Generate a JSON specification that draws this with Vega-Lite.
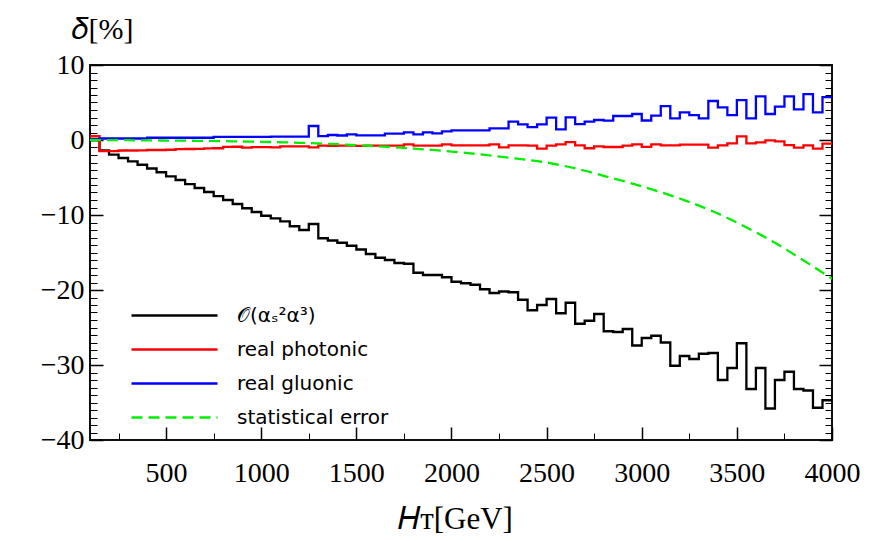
{
  "$schema": "https://vega.github.io/schema/vega-lite/v6.json",
  "width": 742,
  "height": 375,
  "autosize": {"type": "none"},
  "padding": {"left": 90, "top": 65, "right": 42, "bottom": 101},
  "background": "white",
  "config": {
    "view": {"stroke": "#111", "strokeWidth": 2},
    "axis": {"grid": false, "domain": false, "tickColor": "#000", "labelColor": "#000", "titleColor": "#000", "labelOverlap": false, "labelFlush": false}
  },
  "datasets": {
    "hist": [
      {"x":100,"s":"𝒪(αₛ²α³)","v":0.0},{"x":150,"s":"𝒪(αₛ²α³)","v":-1.4},{"x":200,"s":"𝒪(αₛ²α³)","v":-1.95},{"x":250,"s":"𝒪(αₛ²α³)","v":-2.4},{"x":300,"s":"𝒪(αₛ²α³)","v":-2.85},{"x":350,"s":"𝒪(αₛ²α³)","v":-3.3},{"x":400,"s":"𝒪(αₛ²α³)","v":-3.8},{"x":450,"s":"𝒪(αₛ²α³)","v":-4.3},{"x":500,"s":"𝒪(αₛ²α³)","v":-4.85},{"x":550,"s":"𝒪(αₛ²α³)","v":-5.33},
      {"x":600,"s":"𝒪(αₛ²α³)","v":-5.87},{"x":650,"s":"𝒪(αₛ²α³)","v":-6.4},{"x":700,"s":"𝒪(αₛ²α³)","v":-6.93},{"x":750,"s":"𝒪(αₛ²α³)","v":-7.47},{"x":800,"s":"𝒪(αₛ²α³)","v":-8.0},{"x":850,"s":"𝒪(αₛ²α³)","v":-8.53},{"x":900,"s":"𝒪(αₛ²α³)","v":-9.1},{"x":950,"s":"𝒪(αₛ²α³)","v":-9.6},{"x":1000,"s":"𝒪(αₛ²α³)","v":-10.1},{"x":1050,"s":"𝒪(αₛ²α³)","v":-10.45},
      {"x":1100,"s":"𝒪(αₛ²α³)","v":-10.85},{"x":1150,"s":"𝒪(αₛ²α³)","v":-11.5},{"x":1200,"s":"𝒪(αₛ²α³)","v":-12.0},{"x":1250,"s":"𝒪(αₛ²α³)","v":-11.2},{"x":1300,"s":"𝒪(αₛ²α³)","v":-13.1},{"x":1350,"s":"𝒪(αₛ²α³)","v":-13.4},{"x":1400,"s":"𝒪(αₛ²α³)","v":-13.7},{"x":1450,"s":"𝒪(αₛ²α³)","v":-14.1},{"x":1500,"s":"𝒪(αₛ²α³)","v":-14.6},{"x":1550,"s":"𝒪(αₛ²α³)","v":-15.2},
      {"x":1600,"s":"𝒪(αₛ²α³)","v":-15.7},{"x":1650,"s":"𝒪(αₛ²α³)","v":-16.0},{"x":1700,"s":"𝒪(αₛ²α³)","v":-16.4},{"x":1750,"s":"𝒪(αₛ²α³)","v":-16.5},{"x":1800,"s":"𝒪(αₛ²α³)","v":-17.7},{"x":1850,"s":"𝒪(αₛ²α³)","v":-18.0},{"x":1900,"s":"𝒪(αₛ²α³)","v":-18.0},{"x":1950,"s":"𝒪(αₛ²α³)","v":-18.3},{"x":2000,"s":"𝒪(αₛ²α³)","v":-18.9},{"x":2050,"s":"𝒪(αₛ²α³)","v":-19.1},
      {"x":2100,"s":"𝒪(αₛ²α³)","v":-19.3},{"x":2150,"s":"𝒪(αₛ²α³)","v":-19.9},{"x":2200,"s":"𝒪(αₛ²α³)","v":-20.4},{"x":2250,"s":"𝒪(αₛ²α³)","v":-20.2},{"x":2300,"s":"𝒪(αₛ²α³)","v":-20.3},{"x":2350,"s":"𝒪(αₛ²α³)","v":-21.3},{"x":2400,"s":"𝒪(αₛ²α³)","v":-22.7},{"x":2450,"s":"𝒪(αₛ²α³)","v":-22.0},{"x":2500,"s":"𝒪(αₛ²α³)","v":-21.2},{"x":2550,"s":"𝒪(αₛ²α³)","v":-23.1},
      {"x":2600,"s":"𝒪(αₛ²α³)","v":-21.7},{"x":2650,"s":"𝒪(αₛ²α³)","v":-24.5},{"x":2700,"s":"𝒪(αₛ²α³)","v":-24.1},{"x":2750,"s":"𝒪(αₛ²α³)","v":-23.2},{"x":2800,"s":"𝒪(αₛ²α³)","v":-25.5},{"x":2850,"s":"𝒪(αₛ²α³)","v":-25.6},{"x":2900,"s":"𝒪(αₛ²α³)","v":-25.2},{"x":2950,"s":"𝒪(αₛ²α³)","v":-27.4},{"x":3000,"s":"𝒪(αₛ²α³)","v":-26.4},{"x":3050,"s":"𝒪(αₛ²α³)","v":-26.1},
      {"x":3100,"s":"𝒪(αₛ²α³)","v":-27.0},{"x":3150,"s":"𝒪(αₛ²α³)","v":-30.1},{"x":3200,"s":"𝒪(αₛ²α³)","v":-28.8},{"x":3250,"s":"𝒪(αₛ²α³)","v":-29.2},{"x":3300,"s":"𝒪(αₛ²α³)","v":-28.5},{"x":3350,"s":"𝒪(αₛ²α³)","v":-28.4},{"x":3400,"s":"𝒪(αₛ²α³)","v":-32.0},{"x":3450,"s":"𝒪(αₛ²α³)","v":-30.4},{"x":3500,"s":"𝒪(αₛ²α³)","v":-27.1},{"x":3550,"s":"𝒪(αₛ²α³)","v":-33.2},
      {"x":3600,"s":"𝒪(αₛ²α³)","v":-30.4},{"x":3650,"s":"𝒪(αₛ²α³)","v":-35.8},{"x":3700,"s":"𝒪(αₛ²α³)","v":-32.0},{"x":3750,"s":"𝒪(αₛ²α³)","v":-30.9},{"x":3800,"s":"𝒪(αₛ²α³)","v":-33.2},{"x":3850,"s":"𝒪(αₛ²α³)","v":-33.4},{"x":3900,"s":"𝒪(αₛ²α³)","v":-35.7},{"x":3950,"s":"𝒪(αₛ²α³)","v":-34.7},{"x":4000,"s":"𝒪(αₛ²α³)","v":-34.7},

      {"x":100,"s":"real photonic","v":0.5},{"x":150,"s":"real photonic","v":-1.47},{"x":200,"s":"real photonic","v":-1.47},{"x":250,"s":"real photonic","v":-1.4},{"x":300,"s":"real photonic","v":-1.4},{"x":350,"s":"real photonic","v":-1.38},{"x":400,"s":"real photonic","v":-1.33},{"x":450,"s":"real photonic","v":-1.33},{"x":500,"s":"real photonic","v":-1.3},{"x":550,"s":"real photonic","v":-1.22},
      {"x":600,"s":"real photonic","v":-1.2},{"x":650,"s":"real photonic","v":-1.18},{"x":700,"s":"real photonic","v":-1.12},{"x":750,"s":"real photonic","v":-1.1},{"x":800,"s":"real photonic","v":-0.92},{"x":850,"s":"real photonic","v":-0.9},{"x":900,"s":"real photonic","v":-1.02},{"x":950,"s":"real photonic","v":-0.96},{"x":1000,"s":"real photonic","v":-0.95},{"x":1050,"s":"real photonic","v":-0.98},
      {"x":1100,"s":"real photonic","v":-0.84},{"x":1150,"s":"real photonic","v":-0.84},{"x":1200,"s":"real photonic","v":-0.84},{"x":1250,"s":"real photonic","v":-0.98},{"x":1300,"s":"real photonic","v":-0.76},{"x":1350,"s":"real photonic","v":-0.78},{"x":1400,"s":"real photonic","v":-0.76},{"x":1450,"s":"real photonic","v":-0.76},{"x":1500,"s":"real photonic","v":-0.78},{"x":1550,"s":"real photonic","v":-0.76},
      {"x":1600,"s":"real photonic","v":-0.74},{"x":1650,"s":"real photonic","v":-0.76},{"x":1700,"s":"real photonic","v":-0.76},{"x":1750,"s":"real photonic","v":-0.58},{"x":1800,"s":"real photonic","v":-0.76},{"x":1850,"s":"real photonic","v":-0.76},{"x":1900,"s":"real photonic","v":-0.76},{"x":1950,"s":"real photonic","v":-0.58},{"x":2000,"s":"real photonic","v":-0.71},{"x":2050,"s":"real photonic","v":-0.71},
      {"x":2100,"s":"real photonic","v":-0.71},{"x":2150,"s":"real photonic","v":-0.71},{"x":2200,"s":"real photonic","v":-0.58},{"x":2250,"s":"real photonic","v":-0.98},{"x":2300,"s":"real photonic","v":-0.71},{"x":2350,"s":"real photonic","v":-0.71},{"x":2400,"s":"real photonic","v":-0.76},{"x":2450,"s":"real photonic","v":-1.16},{"x":2500,"s":"real photonic","v":-0.76},{"x":2550,"s":"real photonic","v":-0.58},
      {"x":2600,"s":"real photonic","v":-0.27},{"x":2650,"s":"real photonic","v":-0.71},{"x":2700,"s":"real photonic","v":-1.1},{"x":2750,"s":"real photonic","v":-0.84},{"x":2800,"s":"real photonic","v":-0.93},{"x":2850,"s":"real photonic","v":-0.93},{"x":2900,"s":"real photonic","v":-0.76},{"x":2950,"s":"real photonic","v":-0.58},{"x":3000,"s":"real photonic","v":-0.91},{"x":3050,"s":"real photonic","v":-0.58},
      {"x":3100,"s":"real photonic","v":-0.71},{"x":3150,"s":"real photonic","v":-0.71},{"x":3200,"s":"real photonic","v":-0.62},{"x":3250,"s":"real photonic","v":-0.62},{"x":3300,"s":"real photonic","v":-0.62},{"x":3350,"s":"real photonic","v":-1.02},{"x":3400,"s":"real photonic","v":-0.71},{"x":3450,"s":"real photonic","v":-0.44},{"x":3500,"s":"real photonic","v":0.49},{"x":3550,"s":"real photonic","v":-0.44},
      {"x":3600,"s":"real photonic","v":-0.31},{"x":3650,"s":"real photonic","v":-0.04},{"x":3700,"s":"real photonic","v":-0.18},{"x":3750,"s":"real photonic","v":-0.67},{"x":3800,"s":"real photonic","v":-1.02},{"x":3850,"s":"real photonic","v":-0.71},{"x":3900,"s":"real photonic","v":-1.16},{"x":3950,"s":"real photonic","v":-0.49},{"x":4000,"s":"real photonic","v":-0.49},

      {"x":100,"s":"real gluonic","v":0.1},{"x":150,"s":"real gluonic","v":0.2},{"x":200,"s":"real gluonic","v":0.2},{"x":250,"s":"real gluonic","v":0.2},{"x":300,"s":"real gluonic","v":0.2},{"x":350,"s":"real gluonic","v":0.2},{"x":400,"s":"real gluonic","v":0.3},{"x":450,"s":"real gluonic","v":0.3},{"x":500,"s":"real gluonic","v":0.3},{"x":550,"s":"real gluonic","v":0.3},
      {"x":600,"s":"real gluonic","v":0.3},{"x":650,"s":"real gluonic","v":0.3},{"x":700,"s":"real gluonic","v":0.3},{"x":750,"s":"real gluonic","v":0.42},{"x":800,"s":"real gluonic","v":0.42},{"x":850,"s":"real gluonic","v":0.42},{"x":900,"s":"real gluonic","v":0.42},{"x":950,"s":"real gluonic","v":0.42},{"x":1000,"s":"real gluonic","v":0.42},{"x":1050,"s":"real gluonic","v":0.44},
      {"x":1100,"s":"real gluonic","v":0.44},{"x":1150,"s":"real gluonic","v":0.44},{"x":1200,"s":"real gluonic","v":0.44},{"x":1250,"s":"real gluonic","v":1.87},{"x":1300,"s":"real gluonic","v":0.53},{"x":1350,"s":"real gluonic","v":0.67},{"x":1400,"s":"real gluonic","v":0.6},{"x":1450,"s":"real gluonic","v":0.76},{"x":1500,"s":"real gluonic","v":0.62},{"x":1550,"s":"real gluonic","v":0.62},
      {"x":1600,"s":"real gluonic","v":0.62},{"x":1650,"s":"real gluonic","v":0.84},{"x":1700,"s":"real gluonic","v":0.84},{"x":1750,"s":"real gluonic","v":1.02},{"x":1800,"s":"real gluonic","v":0.76},{"x":1850,"s":"real gluonic","v":1.02},{"x":1900,"s":"real gluonic","v":0.89},{"x":1950,"s":"real gluonic","v":1.16},{"x":2000,"s":"real gluonic","v":1.29},{"x":2050,"s":"real gluonic","v":1.29},
      {"x":2100,"s":"real gluonic","v":1.29},{"x":2150,"s":"real gluonic","v":1.29},{"x":2200,"s":"real gluonic","v":1.56},{"x":2250,"s":"real gluonic","v":1.56},{"x":2300,"s":"real gluonic","v":2.44},{"x":2350,"s":"real gluonic","v":2.09},{"x":2400,"s":"real gluonic","v":1.73},{"x":2450,"s":"real gluonic","v":2.09},{"x":2500,"s":"real gluonic","v":2.98},{"x":2550,"s":"real gluonic","v":1.42},
      {"x":2600,"s":"real gluonic","v":3.02},{"x":2650,"s":"real gluonic","v":2.13},{"x":2700,"s":"real gluonic","v":2.44},{"x":2750,"s":"real gluonic","v":2.67},{"x":2800,"s":"real gluonic","v":2.58},{"x":2850,"s":"real gluonic","v":3.2},{"x":2900,"s":"real gluonic","v":3.2},{"x":2950,"s":"real gluonic","v":3.47},{"x":3000,"s":"real gluonic","v":2.6},{"x":3050,"s":"real gluonic","v":3.24},
      {"x":3100,"s":"real gluonic","v":4.53},{"x":3150,"s":"real gluonic","v":2.89},{"x":3200,"s":"real gluonic","v":3.69},{"x":3250,"s":"real gluonic","v":3.33},{"x":3300,"s":"real gluonic","v":2.89},{"x":3350,"s":"real gluonic","v":5.2},{"x":3400,"s":"real gluonic","v":4.36},{"x":3450,"s":"real gluonic","v":3.33},{"x":3500,"s":"real gluonic","v":5.33},{"x":3550,"s":"real gluonic","v":2.89},
      {"x":3600,"s":"real gluonic","v":5.82},{"x":3650,"s":"real gluonic","v":3.47},{"x":3700,"s":"real gluonic","v":4.44},{"x":3750,"s":"real gluonic","v":5.82},{"x":3800,"s":"real gluonic","v":4.09},{"x":3850,"s":"real gluonic","v":6.13},{"x":3900,"s":"real gluonic","v":3.69},{"x":3950,"s":"real gluonic","v":5.73},{"x":4000,"s":"real gluonic","v":5.73}
    ],
    "stat": [
      {"x":100,"s":"statistical error","v":0.0},{"x":200,"s":"statistical error","v":-0.01},{"x":300,"s":"statistical error","v":-0.03},{"x":400,"s":"statistical error","v":-0.05},{"x":500,"s":"statistical error","v":-0.07},{"x":600,"s":"statistical error","v":-0.09},{"x":700,"s":"statistical error","v":-0.12},{"x":800,"s":"statistical error","v":-0.15},{"x":900,"s":"statistical error","v":-0.2},{"x":1000,"s":"statistical error","v":-0.24},
      {"x":1100,"s":"statistical error","v":-0.3},{"x":1200,"s":"statistical error","v":-0.37},{"x":1300,"s":"statistical error","v":-0.46},{"x":1400,"s":"statistical error","v":-0.56},{"x":1500,"s":"statistical error","v":-0.68},{"x":1600,"s":"statistical error","v":-0.82},{"x":1700,"s":"statistical error","v":-0.97},{"x":1800,"s":"statistical error","v":-1.14},{"x":1900,"s":"statistical error","v":-1.33},{"x":2000,"s":"statistical error","v":-1.54},
      {"x":2100,"s":"statistical error","v":-1.78},{"x":2200,"s":"statistical error","v":-2.05},{"x":2300,"s":"statistical error","v":-2.35},{"x":2400,"s":"statistical error","v":-2.65},{"x":2500,"s":"statistical error","v":-3.0},{"x":2600,"s":"statistical error","v":-3.5},{"x":2700,"s":"statistical error","v":-4.1},{"x":2800,"s":"statistical error","v":-4.78},{"x":2900,"s":"statistical error","v":-5.45},{"x":3000,"s":"statistical error","v":-6.17},
      {"x":3100,"s":"statistical error","v":-6.95},{"x":3200,"s":"statistical error","v":-7.8},{"x":3300,"s":"statistical error","v":-8.75},{"x":3400,"s":"statistical error","v":-9.8},{"x":3500,"s":"statistical error","v":-11.0},{"x":3600,"s":"statistical error","v":-12.3},{"x":3700,"s":"statistical error","v":-13.7},{"x":3800,"s":"statistical error","v":-15.25},{"x":3900,"s":"statistical error","v":-16.85},{"x":4000,"s":"statistical error","v":-18.5}
    ]
  },
  "layer": [
    {
      "data": {"name": "hist"},
      "mark": {"type": "line", "interpolate": "step-after", "strokeWidth": 2.3, "clip": true},
      "encoding": {
        "x": {"field": "x", "type": "quantitative", "scale": {"domain": [100, 4000], "nice": false, "zero": false},
          "axis": {"orient": "bottom", "values": [500,1000,1500,2000,2500,3000,3500,4000], "format": "d", "tickSize": -13, "tickWidth": 1.5,
            "labelFont": "Liberation Serif", "labelFontSize": 28, "labelPadding": 32,
            "title": "𝐻ᴛ[GeV]", "titleFont": "Liberation Serif", "titleFontSize": 31, "titleFontWeight": "normal", "titleBaseline": "alphabetic", "titleY": 88, "titleX": 365}},
        "y": {"field": "v", "type": "quantitative", "scale": {"domain": [-40, 10], "nice": false, "zero": false},
          "axis": {"orient": "left", "values": [-40,-30,-20,-10,0,10], "format": "d", "tickSize": -13, "tickWidth": 1.5,
            "labelFont": "Liberation Serif", "labelFontSize": 28, "labelPadding": 19,
            "title": "𝛿[%]", "titleFont": "Liberation Serif", "titleFontSize": 30, "titleFontWeight": "normal", "titleAngle": 0, "titleAlign": "center", "titleBaseline": "alphabetic", "titleX": 12, "titleY": -27}},
        "color": {"field": "s", "type": "nominal",
          "scale": {"domain": ["𝒪(αₛ²α³)", "real photonic", "real gluonic", "statistical error"], "range": ["#000000", "#ff0000", "#0000ff", "#00ee00"]},
          "legend": {"title": null, "orient": "none", "legendX": 73, "legendY": 239, "symbolType": "M-4.3,0H4.3", "symbolSize": 400, "symbolStrokeWidth": 2.3, "labelFont": "DejaVu Sans", "labelFontSize": 20, "labelOffset": 51, "rowPadding": 12, "labelColor": "#000"}},
        "strokeDash": {"field": "s", "type": "nominal",
          "scale": {"domain": ["𝒪(αₛ²α³)", "real photonic", "real gluonic", "statistical error"], "range": [[1,0],[1,0],[1,0],[11,6]]},
          "legend": {"title": null, "orient": "none", "legendX": 73, "legendY": 239, "symbolType": "M-4.3,0H4.3", "symbolSize": 400, "symbolStrokeWidth": 2.3, "labelFont": "DejaVu Sans", "labelFontSize": 20, "labelOffset": 51, "rowPadding": 12, "labelColor": "#000"}}
      }
    },
    {
      "data": {"name": "stat"},
      "mark": {"type": "line", "interpolate": "monotone", "strokeWidth": 2.3, "clip": true},
      "encoding": {
        "x": {"field": "x", "type": "quantitative", "scale": {"domain": [100, 4000], "nice": false, "zero": false},
          "axis": {"orient": "bottom", "values": [250,750,1250,1750,2250,2750,3250,3750], "tickSize": -7, "tickWidth": 1, "labels": false, "title": null}},
        "y": {"field": "v", "type": "quantitative", "scale": {"domain": [-40, 10], "nice": false, "zero": false},
          "axis": {"orient": "left", "values": [-39,-38,-37,-36,-35,-34,-33,-32,-31,-29,-28,-27,-26,-25,-24,-23,-22,-21,-19,-18,-17,-16,-15,-14,-13,-12,-11,-9,-8,-7,-6,-5,-4,-3,-2,-1,1,2,3,4,5,6,7,8,9], "tickSize": -7, "tickWidth": 1, "labels": false, "title": null}},
        "color": {"field": "s", "type": "nominal",
          "scale": {"domain": ["𝒪(αₛ²α³)", "real photonic", "real gluonic", "statistical error"], "range": ["#000000", "#ff0000", "#0000ff", "#00ee00"]},
          "legend": {"title": null, "orient": "none", "legendX": 73, "legendY": 239, "symbolType": "M-4.3,0H4.3", "symbolSize": 400, "symbolStrokeWidth": 2.3, "labelFont": "DejaVu Sans", "labelFontSize": 20, "labelOffset": 51, "rowPadding": 12, "labelColor": "#000"}},
        "strokeDash": {"field": "s", "type": "nominal",
          "scale": {"domain": ["𝒪(αₛ²α³)", "real photonic", "real gluonic", "statistical error"], "range": [[1,0],[1,0],[1,0],[11,6]]},
          "legend": {"title": null, "orient": "none", "legendX": 73, "legendY": 239, "symbolType": "M-4.3,0H4.3", "symbolSize": 400, "symbolStrokeWidth": 2.3, "labelFont": "DejaVu Sans", "labelFontSize": 20, "labelOffset": 51, "rowPadding": 12, "labelColor": "#000"}}
      }
    },
    {
      "data": {"name": "stat"},
      "mark": {"type": "line", "opacity": 0},
      "encoding": {
        "x": {"field": "x", "type": "quantitative", "scale": {"domain": [100, 4000], "nice": false, "zero": false}, "axis": null},
        "y": {"field": "v", "type": "quantitative", "scale": {"domain": [-40, 10], "nice": false, "zero": false},
          "axis": {"orient": "right", "values": [-40,-30,-20,-10,0,10], "tickSize": -13, "tickWidth": 1.5, "labels": false, "title": null}}
      }
    },
    {
      "data": {"name": "stat"},
      "mark": {"type": "line", "opacity": 0},
      "encoding": {
        "x": {"field": "x", "type": "quantitative", "scale": {"domain": [100, 4000], "nice": false, "zero": false}, "axis": null},
        "y": {"field": "v", "type": "quantitative", "scale": {"domain": [-40, 10], "nice": false, "zero": false},
          "axis": {"orient": "right", "values": [-39,-38,-37,-36,-35,-34,-33,-32,-31,-29,-28,-27,-26,-25,-24,-23,-22,-21,-19,-18,-17,-16,-15,-14,-13,-12,-11,-9,-8,-7,-6,-5,-4,-3,-2,-1,1,2,3,4,5,6,7,8,9], "tickSize": -7, "tickWidth": 1, "labels": false, "title": null}}
      }
    }
  ],
  "resolve": {"axis": {"x": "independent", "y": "independent"}}
}
